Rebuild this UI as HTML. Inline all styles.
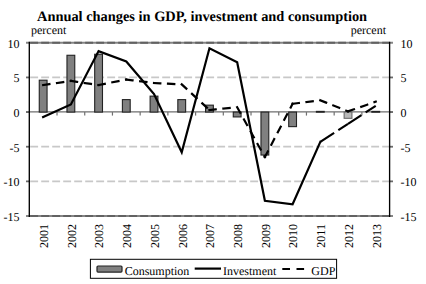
<!DOCTYPE html>
<html><head><meta charset="utf-8"><style>
html,body{margin:0;padding:0;background:#fff;width:426px;height:284px;overflow:hidden;}
svg{display:block;} text{text-rendering:geometricPrecision;}
</style></head><body>
<svg width="426" height="284" viewBox="0 0 426 284">
<rect width="426" height="284" fill="#fff"/>
<text x="37" y="20.6" font-family='"Liberation Serif", serif' font-weight="bold" font-size="14.4" fill="#000">Annual changes in GDP, investment and consumption</text>
<text x="31" y="34" font-family='"Liberation Serif", serif' font-size="12" fill="#000">percent</text>
<text x="350.7" y="34" font-family='"Liberation Serif", serif' font-size="12" fill="#000">percent</text>
<line x1="29.3" y1="77.44" x2="389.6" y2="77.44" stroke="#c8c8c8" stroke-width="1.7" stroke-dasharray="7.9 3.1" stroke-dashoffset="10.1"/>
<line x1="29.3" y1="146.72" x2="389.6" y2="146.72" stroke="#c8c8c8" stroke-width="1.7" stroke-dasharray="7.9 3.1" stroke-dashoffset="10.1"/>
<line x1="29.3" y1="181.36" x2="389.6" y2="181.36" stroke="#c8c8c8" stroke-width="1.7" stroke-dasharray="7.9 3.1" stroke-dashoffset="10.1"/>
<line x1="26" y1="42.80" x2="393" y2="42.80" stroke="#858585" stroke-width="2"/>
<line x1="29.3" y1="42.80" x2="389.6" y2="42.80" stroke="#626262" stroke-width="2" stroke-dasharray="7.9 3.1" stroke-dashoffset="10.1"/>
<line x1="26" y1="216.00" x2="393" y2="216.00" stroke="#858585" stroke-width="2"/>
<line x1="29.3" y1="216.00" x2="389.6" y2="216.00" stroke="#626262" stroke-width="2" stroke-dasharray="7.9 3.1" stroke-dashoffset="10.1"/>
<line x1="26" y1="77.44" x2="29.3" y2="77.44" stroke="#6a6a6a" stroke-width="1.8"/>
<line x1="389.6" y1="77.44" x2="393" y2="77.44" stroke="#6a6a6a" stroke-width="1.8"/>
<line x1="26" y1="112.08" x2="29.3" y2="112.08" stroke="#6a6a6a" stroke-width="1.8"/>
<line x1="389.6" y1="112.08" x2="393" y2="112.08" stroke="#6a6a6a" stroke-width="1.8"/>
<line x1="26" y1="146.72" x2="29.3" y2="146.72" stroke="#6a6a6a" stroke-width="1.8"/>
<line x1="389.6" y1="146.72" x2="393" y2="146.72" stroke="#6a6a6a" stroke-width="1.8"/>
<line x1="26" y1="181.36" x2="29.3" y2="181.36" stroke="#6a6a6a" stroke-width="1.8"/>
<line x1="389.6" y1="181.36" x2="393" y2="181.36" stroke="#6a6a6a" stroke-width="1.8"/>
<line x1="26" y1="111.88" x2="393" y2="111.88" stroke="#6e6e6e" stroke-width="1.4"/>
<line x1="57.02" y1="112.08" x2="57.02" y2="115.58" stroke="#707070" stroke-width="1.2"/>
<line x1="84.73" y1="112.08" x2="84.73" y2="115.58" stroke="#707070" stroke-width="1.2"/>
<line x1="112.45" y1="112.08" x2="112.45" y2="115.58" stroke="#707070" stroke-width="1.2"/>
<line x1="140.16" y1="112.08" x2="140.16" y2="115.58" stroke="#707070" stroke-width="1.2"/>
<line x1="167.88" y1="112.08" x2="167.88" y2="115.58" stroke="#707070" stroke-width="1.2"/>
<line x1="195.59" y1="112.08" x2="195.59" y2="115.58" stroke="#707070" stroke-width="1.2"/>
<line x1="223.31" y1="112.08" x2="223.31" y2="115.58" stroke="#707070" stroke-width="1.2"/>
<line x1="251.02" y1="112.08" x2="251.02" y2="115.58" stroke="#707070" stroke-width="1.2"/>
<line x1="278.74" y1="112.08" x2="278.74" y2="115.58" stroke="#707070" stroke-width="1.2"/>
<line x1="306.45" y1="112.08" x2="306.45" y2="115.58" stroke="#707070" stroke-width="1.2"/>
<line x1="334.17" y1="112.08" x2="334.17" y2="115.58" stroke="#707070" stroke-width="1.2"/>
<line x1="361.88" y1="112.08" x2="361.88" y2="115.58" stroke="#707070" stroke-width="1.2"/>
<rect x="39.26" y="80.21" width="7.8" height="31.87" fill="#808080" stroke="#222" stroke-width="1.1"/>
<rect x="66.97" y="55.27" width="7.8" height="56.81" fill="#808080" stroke="#222" stroke-width="1.1"/>
<rect x="94.69" y="54.23" width="7.8" height="57.85" fill="#808080" stroke="#222" stroke-width="1.1"/>
<rect x="122.40" y="99.61" width="7.8" height="12.47" fill="#808080" stroke="#222" stroke-width="1.1"/>
<rect x="150.12" y="96.15" width="7.8" height="15.93" fill="#808080" stroke="#222" stroke-width="1.1"/>
<rect x="177.83" y="99.61" width="7.8" height="12.47" fill="#808080" stroke="#222" stroke-width="1.1"/>
<rect x="205.55" y="105.15" width="7.8" height="6.93" fill="#808080" stroke="#222" stroke-width="1.1"/>
<rect x="233.27" y="112.08" width="7.8" height="4.85" fill="#808080" stroke="#222" stroke-width="1.1"/>
<rect x="260.98" y="112.08" width="7.8" height="42.95" fill="#808080" stroke="#222" stroke-width="1.1"/>
<rect x="288.70" y="112.08" width="7.8" height="14.55" fill="#808080" stroke="#222" stroke-width="1.1"/>
<rect x="316.41" y="111.39" width="7.8" height="0.80" fill="#808080" stroke="#222" stroke-width="1.1"/>
<rect x="344.13" y="112.08" width="7.8" height="6.24" fill="#b8b8b8" stroke="#6a6a6a" stroke-width="1.1"/>
<rect x="371.84" y="111.39" width="7.8" height="0.80" fill="#808080" stroke="#222" stroke-width="1.1"/>
<line x1="29.3" y1="41.80" x2="29.3" y2="217.00" stroke="#000" stroke-width="1.35"/>
<line x1="389.6" y1="41.80" x2="389.6" y2="217.00" stroke="#000" stroke-width="1.35"/>
<path d="M43.16 85.06L70.87 80.90" fill="none" stroke="#000" stroke-width="2.2" stroke-dasharray="6.3 7.7" stroke-linecap="square"/>
<path d="M70.87 80.90L98.59 85.06" fill="none" stroke="#000" stroke-width="2.2" stroke-dasharray="6.3 7.7" stroke-linecap="square"/>
<path d="M98.59 85.06L126.30 79.52" fill="none" stroke="#000" stroke-width="2.2" stroke-dasharray="6.3 7.7" stroke-linecap="square"/>
<path d="M126.30 79.52L154.02 82.98" fill="none" stroke="#000" stroke-width="2.2" stroke-dasharray="6.3 7.7" stroke-linecap="square"/>
<path d="M154.02 82.98L181.73 84.37" fill="none" stroke="#000" stroke-width="2.2" stroke-dasharray="6.3 7.7" stroke-linecap="square"/>
<path d="M181.73 84.37L209.45 110.00" fill="none" stroke="#000" stroke-width="2.2" stroke-dasharray="6.3 7.7" stroke-linecap="square"/>
<path d="M209.45 110.00L237.17 107.23" fill="none" stroke="#000" stroke-width="2.2" stroke-dasharray="6.3 7.7" stroke-linecap="square"/>
<path d="M237.17 107.23L264.88 157.11" fill="none" stroke="#000" stroke-width="2.2" stroke-dasharray="6.3 7.7" stroke-linecap="square"/>
<path d="M264.88 157.11L292.60 103.77" fill="none" stroke="#000" stroke-width="2.2" stroke-dasharray="6.3 7.7" stroke-linecap="square"/>
<path d="M292.60 103.77L320.31 100.30" fill="none" stroke="#000" stroke-width="2.2" stroke-dasharray="6.3 7.7" stroke-linecap="square"/>
<path d="M320.31 100.30L348.03 111.39" fill="none" stroke="#000" stroke-width="2.2" stroke-dasharray="6.3 7.7" stroke-linecap="square"/>
<path d="M348.03 111.39L375.74 101.69" fill="none" stroke="#000" stroke-width="2.2" stroke-dasharray="6.3 7.7" stroke-linecap="square"/>
<polyline points="43.16,116.93 70.87,104.46 98.59,51.11 126.30,61.51 154.02,94.07 181.73,152.26 209.45,48.34 237.17,62.20 264.88,200.76 292.60,204.22 320.31,141.87" fill="none" stroke="#000" stroke-width="2.2" stroke-linejoin="miter" stroke-linecap="square"/>
<line x1="320.31" y1="141.87" x2="348.03" y2="123.86" stroke="#000" stroke-width="2.2" stroke-dasharray="16.5 5"/>
<line x1="348.03" y1="123.86" x2="375.74" y2="105.84" stroke="#000" stroke-width="2.2" stroke-dasharray="16 5"/>
<text x="19.5" y="47.80" text-anchor="end" font-family='"Liberation Serif", serif' font-size="12" fill="#000">10</text>
<text x="400.5" y="47.80" font-family='"Liberation Serif", serif' font-size="12" fill="#000">10</text>
<text x="19.5" y="82.44" text-anchor="end" font-family='"Liberation Serif", serif' font-size="12" fill="#000">5</text>
<text x="400.5" y="82.44" font-family='"Liberation Serif", serif' font-size="12" fill="#000">5</text>
<text x="19.5" y="117.08" text-anchor="end" font-family='"Liberation Serif", serif' font-size="12" fill="#000">0</text>
<text x="400.5" y="117.08" font-family='"Liberation Serif", serif' font-size="12" fill="#000">0</text>
<text x="19.5" y="151.72" text-anchor="end" font-family='"Liberation Serif", serif' font-size="12" fill="#000">-5</text>
<text x="400.5" y="151.72" font-family='"Liberation Serif", serif' font-size="12" fill="#000">-5</text>
<text x="19.5" y="186.36" text-anchor="end" font-family='"Liberation Serif", serif' font-size="12" fill="#000">-10</text>
<text x="400.5" y="186.36" font-family='"Liberation Serif", serif' font-size="12" fill="#000">-10</text>
<text x="19.5" y="221.00" text-anchor="end" font-family='"Liberation Serif", serif' font-size="12" fill="#000">-15</text>
<text x="400.5" y="221.00" font-family='"Liberation Serif", serif' font-size="12" fill="#000">-15</text>
<text transform="translate(47.96,224.1) rotate(-90)" text-anchor="end" font-family='"Liberation Serif", serif' font-size="12" fill="#000">2001</text>
<text transform="translate(75.67,224.1) rotate(-90)" text-anchor="end" font-family='"Liberation Serif", serif' font-size="12" fill="#000">2002</text>
<text transform="translate(103.39,224.1) rotate(-90)" text-anchor="end" font-family='"Liberation Serif", serif' font-size="12" fill="#000">2003</text>
<text transform="translate(131.10,224.1) rotate(-90)" text-anchor="end" font-family='"Liberation Serif", serif' font-size="12" fill="#000">2004</text>
<text transform="translate(158.82,224.1) rotate(-90)" text-anchor="end" font-family='"Liberation Serif", serif' font-size="12" fill="#000">2005</text>
<text transform="translate(186.53,224.1) rotate(-90)" text-anchor="end" font-family='"Liberation Serif", serif' font-size="12" fill="#000">2006</text>
<text transform="translate(214.25,224.1) rotate(-90)" text-anchor="end" font-family='"Liberation Serif", serif' font-size="12" fill="#000">2007</text>
<text transform="translate(241.97,224.1) rotate(-90)" text-anchor="end" font-family='"Liberation Serif", serif' font-size="12" fill="#000">2008</text>
<text transform="translate(269.68,224.1) rotate(-90)" text-anchor="end" font-family='"Liberation Serif", serif' font-size="12" fill="#000">2009</text>
<text transform="translate(297.40,224.1) rotate(-90)" text-anchor="end" font-family='"Liberation Serif", serif' font-size="12" fill="#000">2010</text>
<text transform="translate(325.11,224.1) rotate(-90)" text-anchor="end" font-family='"Liberation Serif", serif' font-size="12" fill="#000">2011</text>
<text transform="translate(352.83,224.1) rotate(-90)" text-anchor="end" font-family='"Liberation Serif", serif' font-size="12" fill="#000">2012</text>
<text transform="translate(380.54,224.1) rotate(-90)" text-anchor="end" font-family='"Liberation Serif", serif' font-size="12" fill="#000">2013</text>
<rect x="90.4" y="259.3" width="246.2" height="19" fill="#fff" stroke="#000" stroke-width="1"/>
<rect x="97" y="266" width="25" height="6.1" rx="1" fill="#808080" stroke="#222" stroke-width="1.2"/>
<text x="124.7" y="274.7" font-family='"Liberation Serif", serif' font-size="12" fill="#000">Consumption</text>
<line x1="194.7" y1="268.6" x2="221" y2="268.6" stroke="#000" stroke-width="2.2"/>
<text x="223" y="274.7" font-family='"Liberation Serif", serif' font-size="12" fill="#000">Investment</text>
<line x1="282.3" y1="269" x2="304.1" y2="269" stroke="#000" stroke-width="2.2" stroke-dasharray="7.7 6.5"/>
<text x="311.3" y="274.7" font-family='"Liberation Serif", serif' font-size="12" fill="#000">GDP</text>
</svg>
</body></html>
